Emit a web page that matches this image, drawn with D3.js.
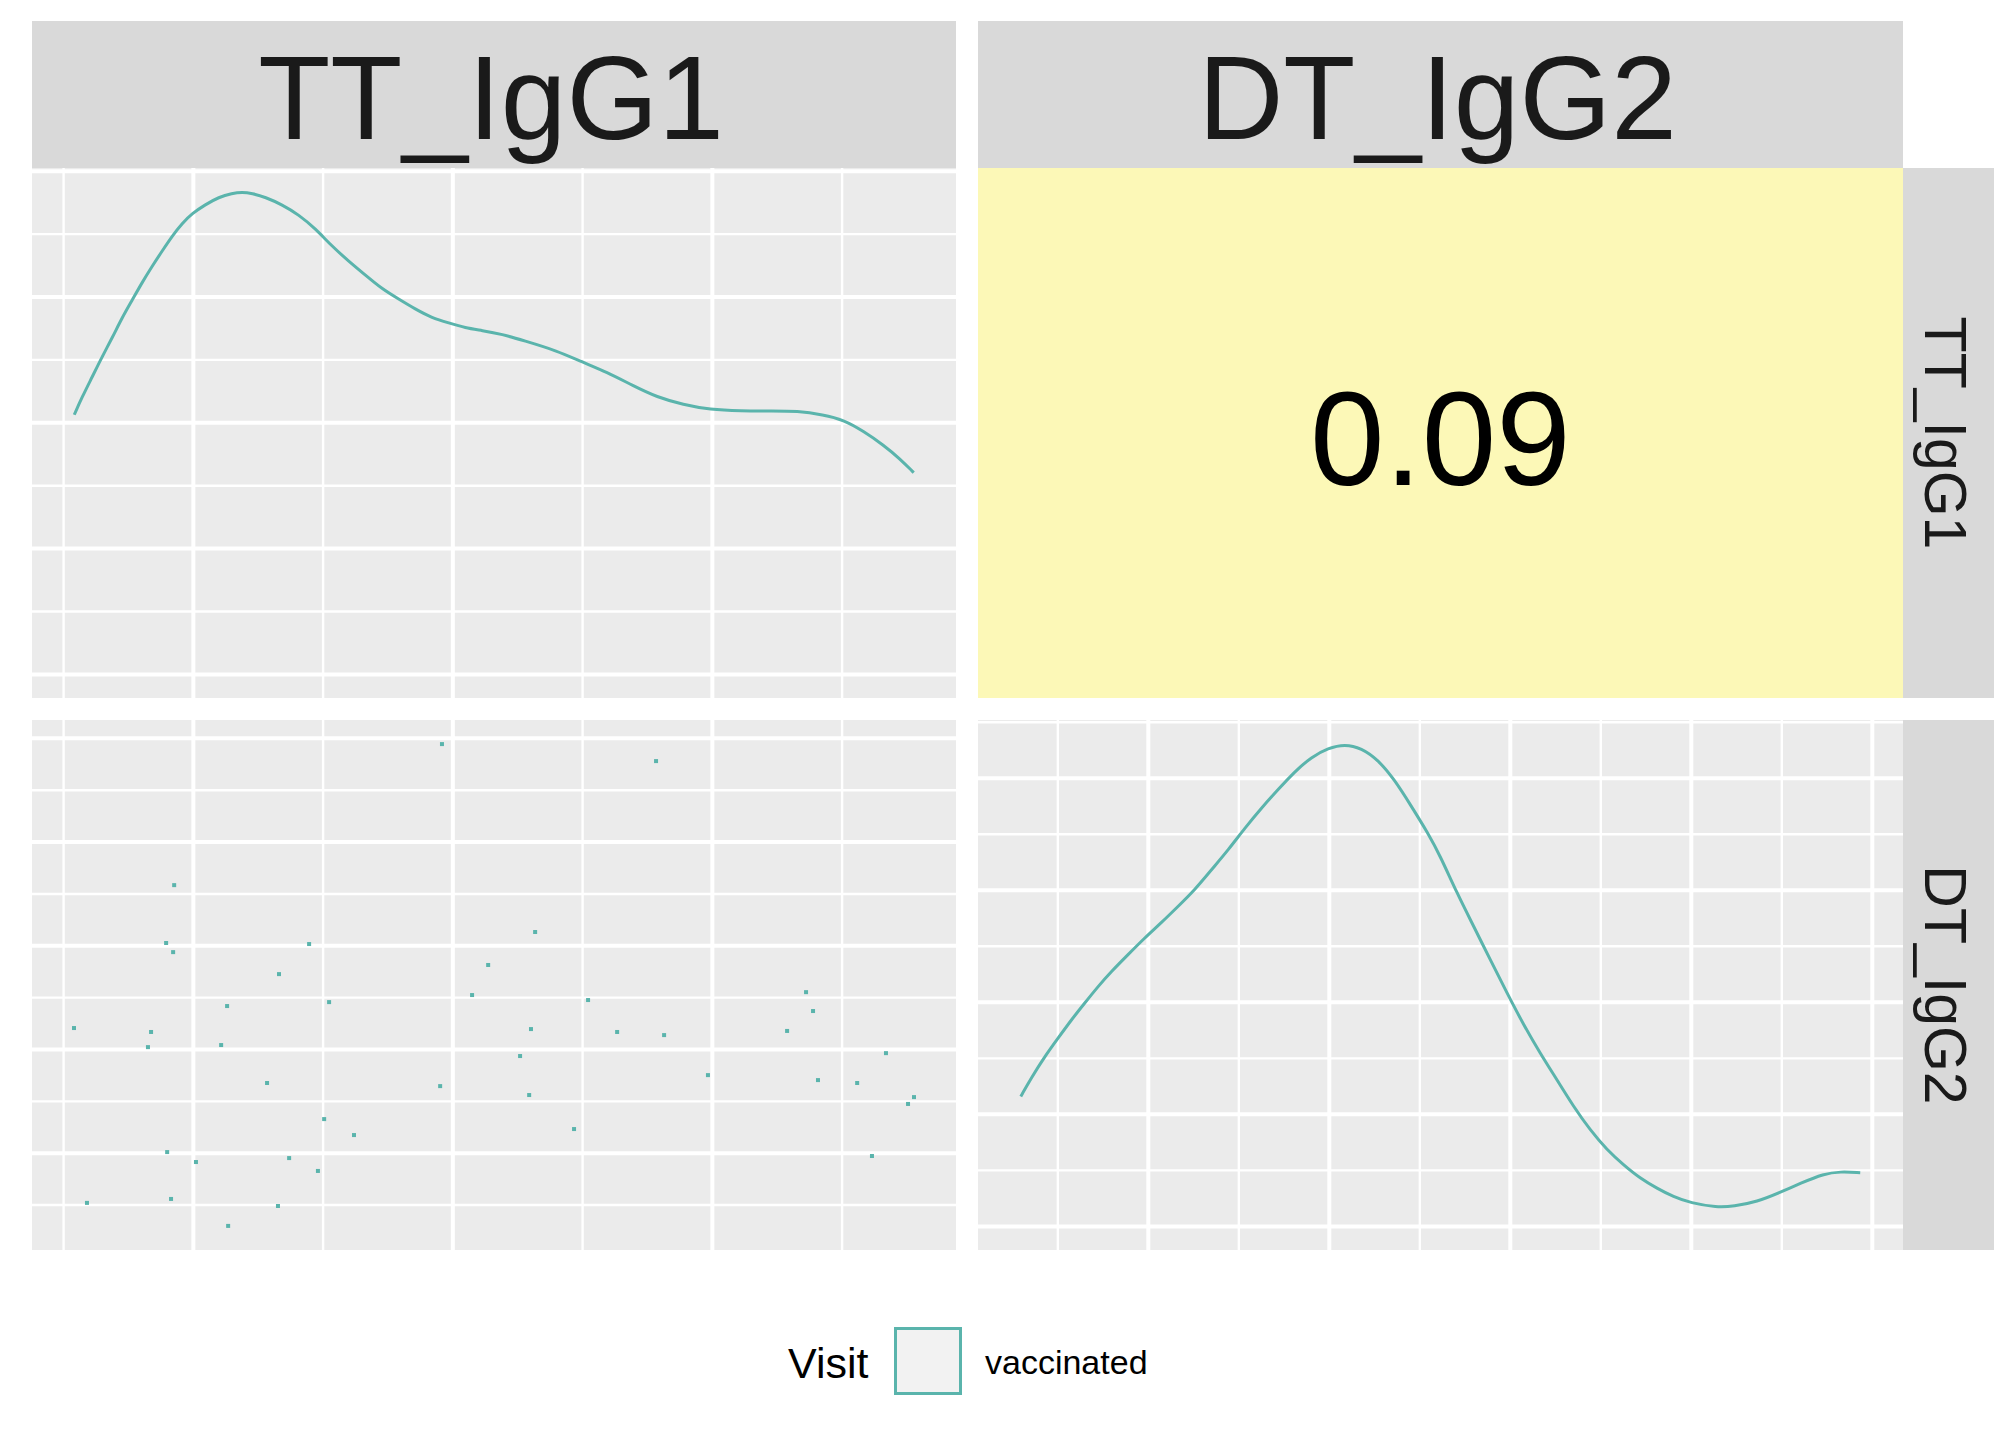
<!DOCTYPE html>
<html>
<head>
<meta charset="utf-8">
<script src="https://cdn.jsdelivr.net/npm/d3@7"></script>
<style>
  body { margin: 0; background: #fff; }
  svg { display: block; font-family: "Liberation Sans", Arial, sans-serif; }
</style>
</head>
<body>
<div id="chart"></div>
<script>
// Variables of the pairs matrix
const vars = ["TT_IgG1", "DT_IgG2"];
const corrLabel = "0.09";
const legendTitle = "Visit";
const legendLabels = ["vaccinated"];

// Scatter points (TT_IgG1 vs DT_IgG2)
const ttValues = [1.960, 0.928, 0.897, 0.924, 1.448, 2.138, 1.332, 2.076, 1.132, 1.525,
  0.542, 0.839, 0.827, 1.109, 1.286, 1.953, 1.506, 1.621, 0.901, 1.012,
  1.371, 1.482, 0.592, 0.916, 1.328, 1.136, 2.785, 2.319, 3.363, 2.523,
  3.390, 2.303, 2.635, 2.816, 3.290, 2.261, 3.671, 2.985, 3.409, 3.560,
  2.296, 3.779, 3.756, 2.469, 3.617];
const dtValues = [2.970, 2.290, 2.011, 1.967, 2.006, 1.905, 1.861, 1.760, 1.707, 1.726,
  1.601, 1.582, 1.509, 1.519, 1.336, 1.321, 1.162, 1.085, 1.003, 0.955,
  0.974, 0.912, 0.758, 0.777, 0.743, 0.647, 2.888, 2.064, 1.774, 1.736,
  1.683, 1.596, 1.582, 1.567, 1.587, 1.466, 1.480, 1.374, 1.350, 1.336,
  1.278, 1.268, 1.235, 1.114, 0.984];

// Density curves on the diagonal
const ttDensX = [0.543, 0.573, 0.612, 0.650, 0.689, 0.727, 0.766, 0.804, 0.843, 0.881,
  0.920, 0.958, 0.997, 1.048, 1.100, 1.151, 1.190, 1.228, 1.279, 1.344,
  1.408, 1.472, 1.536, 1.601, 1.665, 1.729, 1.793, 1.857, 1.922, 1.986,
  2.050, 2.114, 2.192, 2.274, 2.402, 2.499, 2.595, 2.697, 2.788, 2.890,
  2.993, 3.109, 3.237, 3.327, 3.430, 3.507, 3.584, 3.661, 3.725, 3.778];
const ttDensY = [0.206, 0.220, 0.236, 0.252, 0.267, 0.283, 0.297, 0.311, 0.324, 0.336,
  0.348, 0.358, 0.366, 0.373, 0.379, 0.382, 0.383, 0.382, 0.379, 0.373,
  0.365, 0.354, 0.340, 0.328, 0.317, 0.306, 0.298, 0.290, 0.283, 0.279,
  0.275, 0.273, 0.270, 0.265, 0.257, 0.248, 0.240, 0.229, 0.220, 0.214,
  0.210, 0.209, 0.209, 0.209, 0.206, 0.202, 0.193, 0.182, 0.171, 0.160];
const dtDensX = [0.649, 0.678, 0.715, 0.752, 0.789, 0.826, 0.862, 0.899, 0.945, 0.991,
  1.037, 1.083, 1.130, 1.176, 1.222, 1.268, 1.314, 1.360, 1.406, 1.452,
  1.498, 1.544, 1.590, 1.636, 1.682, 1.728, 1.774, 1.808, 1.854, 1.900,
  1.946, 1.992, 2.038, 2.084, 2.130, 2.176, 2.222, 2.268, 2.314, 2.360,
  2.407, 2.452, 2.499, 2.572, 2.618, 2.683, 2.747, 2.803, 2.867, 2.913, 2.968];
const dtDensY = [0.231, 0.264, 0.302, 0.335, 0.368, 0.398, 0.427, 0.454, 0.484, 0.514,
  0.541, 0.570, 0.600, 0.636, 0.671, 0.710, 0.746, 0.779, 0.811, 0.837,
  0.853, 0.860, 0.853, 0.832, 0.796, 0.749, 0.701, 0.660, 0.594, 0.535,
  0.475, 0.416, 0.359, 0.308, 0.261, 0.213, 0.171, 0.136, 0.109, 0.085,
  0.067, 0.052, 0.041, 0.033, 0.035, 0.043, 0.060, 0.076, 0.093, 0.097, 0.095];

// Grid breaks (axis labels are hidden in the figure)
const ttMajor = [1, 2, 3];
const ttMinor = [0.5, 1.5, 2.5, 3.5];
const dtMajor = [1, 1.5, 2, 2.5, 3];
const dtMinor = [0.75, 1.25, 1.75, 2.25, 2.75];
const ttDensMajor = [0, 0.1, 0.2, 0.3, 0.4];
const ttDensMinor = [0.05, 0.15, 0.25, 0.35];
const dtDensMajor = [0, 0.2, 0.4, 0.6, 0.8];
const dtDensMinor = [0.1, 0.3, 0.5, 0.7, 0.9];

const teal = "#5ab4ac";
const width = 2016, height = 1440;

// layout
const colX = [32, 978], colW = [924, 925];
const rowY = [168, 720], rowH = 530;
const stripTop = 21;
const rowStripX = 1903, rowStripW = 91;

// ggplot style 5% expansion
function expand(ext) {
  const r = ext[1] - ext[0];
  return [ext[0] - 0.05 * r, ext[1] + 0.05 * r];
}

const xTT = d3.scaleLinear().domain(expand(d3.extent(ttValues))).range([0, colW[0]]);
const xDT = d3.scaleLinear().domain(expand(d3.extent(dtValues))).range([0, colW[1]]);
const yDT = d3.scaleLinear().domain(expand(d3.extent(dtValues))).range([rowH, 0]);
const yTTdens = d3.scaleLinear().domain(expand([0, d3.max(ttDensY)])).range([rowH, 0]);
const yDTdens = d3.scaleLinear().domain(expand([0, d3.max(dtDensY)])).range([rowH, 0]);

const svg = d3.select("#chart")
  .append("svg")
  .attr("width", width)
  .attr("height", height);

svg.append("rect").attr("width", width).attr("height", height).attr("fill", "#fff");

function gridLines(g, vals, axis, size, sw) {
  const a = g.append("g")
    .call(axis.tickValues(vals).tickSize(size).tickFormat(""));
  a.select(".domain").remove();
  a.selectAll("line").attr("stroke", "#fff").attr("stroke-width", sw);
}

function panel(col, row, x, y, xMaj, xMin, yMaj, yMin) {
  const w = colW[col];
  const g = svg.append("g")
    .attr("transform", "translate(" + colX[col] + "," + rowY[row] + ")");
  g.append("rect").attr("width", w).attr("height", rowH).attr("fill", "#ebebeb");
  gridLines(g, yMin, d3.axisRight(y), w, 2.4);
  gridLines(g, xMin, d3.axisBottom(x), rowH, 2.4);
  gridLines(g, yMaj, d3.axisRight(y), w, 4);
  gridLines(g, xMaj, d3.axisBottom(x), rowH, 4);
  return g;
}

// top-left: density of TT_IgG1
const p11 = panel(0, 0, xTT, yTTdens, ttMajor, ttMinor, ttDensMajor, ttDensMinor);
p11.append("path")
  .datum(d3.zip(ttDensX, ttDensY))
  .attr("fill", "none")
  .attr("stroke", teal)
  .attr("stroke-width", 3)
  .attr("d", d3.line().x(d => xTT(d[0])).y(d => yTTdens(d[1])).curve(d3.curveBasis));

// bottom-right: density of DT_IgG2
const p22 = panel(1, 1, xDT, yDTdens, dtMajor, dtMinor, dtDensMajor, dtDensMinor);
p22.append("path")
  .datum(d3.zip(dtDensX, dtDensY))
  .attr("fill", "none")
  .attr("stroke", teal)
  .attr("stroke-width", 3)
  .attr("d", d3.line().x(d => xDT(d[0])).y(d => yDTdens(d[1])).curve(d3.curveBasis));

// bottom-left: scatter
const p21 = panel(0, 1, xTT, yDT, ttMajor, ttMinor, dtMajor, dtMinor);
p21.selectAll("rect.pt")
  .data(d3.zip(ttValues, dtValues))
  .join("rect")
  .attr("class", "pt")
  .attr("x", d => xTT(d[0]) - 2)
  .attr("y", d => yDT(d[1]) - 2)
  .attr("width", 4)
  .attr("height", 4)
  .attr("fill", teal);

// top-right: correlation cell
const p12 = svg.append("g")
  .attr("transform", "translate(" + colX[1] + "," + rowY[0] + ")");
p12.append("rect").attr("width", colW[1]).attr("height", rowH).attr("fill", "#fcf8b7");
p12.append("text")
  .attr("x", colW[1] / 2)
  .attr("y", 317)
  .attr("text-anchor", "middle")
  .attr("font-size", 134)
  .attr("fill", "#000")
  .text(corrLabel);

// column strips
vars.forEach((v, i) => {
  svg.append("rect")
    .attr("x", colX[i]).attr("y", stripTop)
    .attr("width", colW[i]).attr("height", rowY[0] - stripTop)
    .attr("fill", "#d9d9d9");
  svg.append("text")
    .attr("x", colX[i] + colW[i] / 2 - 3)
    .attr("y", 139)
    .attr("text-anchor", "middle")
    .attr("font-size", 118)
    .attr("fill", "#1a1a1a")
    .text(v);
});

// row strips
vars.forEach((v, i) => {
  svg.append("rect")
    .attr("x", rowStripX).attr("y", rowY[i])
    .attr("width", rowStripW).attr("height", rowH)
    .attr("fill", "#d9d9d9");
  svg.append("text")
    .attr("transform", "translate(" + (rowStripX + 43) + "," + (rowY[i] + rowH / 2) + ") rotate(90)")
    .attr("text-anchor", "middle")
    .attr("dy", "0.36em")
    .attr("font-size", 59)
    .attr("fill", "#1a1a1a")
    .text(v);
});

// legend
const legend = svg.append("g");
legend.append("text")
  .attr("x", 788).attr("y", 1378)
  .attr("font-size", 43)
  .attr("fill", "#000")
  .text(legendTitle);
legendLabels.forEach((lab, i) => {
  legend.append("rect")
    .attr("x", 895.5).attr("y", 1328.5)
    .attr("width", 65).attr("height", 65)
    .attr("fill", "#f2f2f2")
    .attr("stroke", teal)
    .attr("stroke-width", 3);
  legend.append("text")
    .attr("x", 985).attr("y", 1374)
    .attr("font-size", 34)
    .attr("fill", "#000")
    .text(lab);
});
</script>
</body>
</html>
